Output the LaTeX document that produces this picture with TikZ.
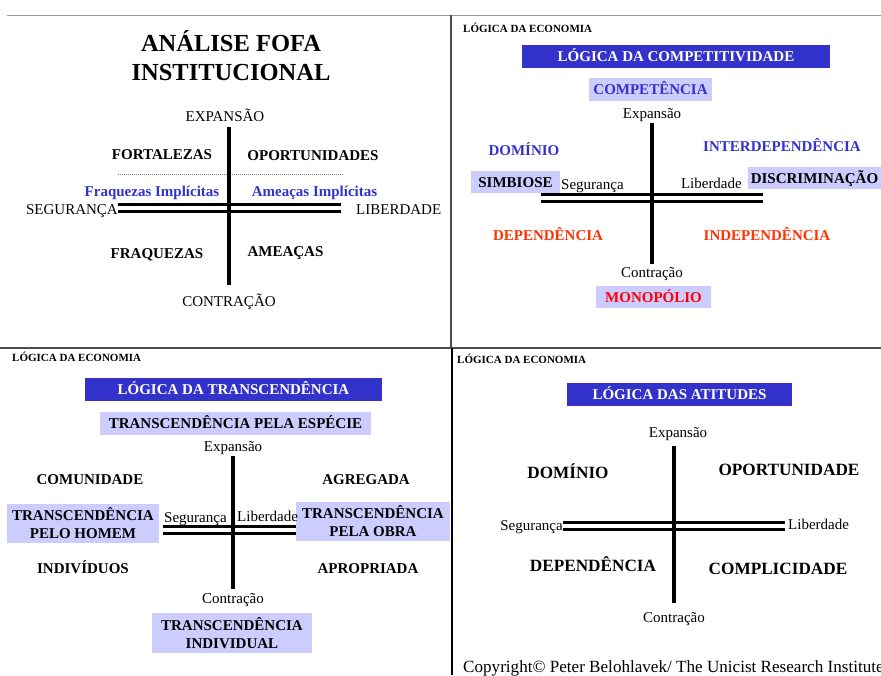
\documentclass[tikz,border=0pt]{standalone}
\usepackage{fontspec}
\setmainfont{Liberation Serif}
\definecolor{banner}{HTML}{3333CC}
\definecolor{lilac}{HTML}{CCCCFF}
\definecolor{ink}{HTML}{3333CC}
\definecolor{flame}{HTML}{FF3300}
\definecolor{alarm}{HTML}{FF0000}
\tikzset{
  txt/.style={inner sep=0pt, font=\fontsize{15}{17}\selectfont, text height=10.2pt, text depth=0pt},
  bld/.style={inner sep=0pt, font=\fontsize{15}{17}\selectfont\bfseries, text height=10.2pt, text depth=0pt},
  big/.style={inner sep=0pt, font=\fontsize{17.2}{20}\selectfont\bfseries, text height=11.7pt, text depth=0pt},
  small/.style={inner sep=0pt, font=\fontsize{11}{13}\selectfont\bfseries, text height=7.5pt, text depth=0pt, anchor=west},
  bannerbox/.style={bld, fill=banner, text=white},
  tagbox/.style={bld, fill=lilac},
  twobox/.style={inner sep=0pt, font=\fontsize{15}{18}\selectfont\bfseries, fill=lilac, align=center},
  axis/.style={line width=3.5pt},
  dbl/.style={draw=black, line width=3pt, double=white, double distance=4pt},
  frame/.style={line width=1.5pt, black!70}
}
\begin{document}
\begin{tikzpicture}[x=1pt, y=-1pt]
\useasboundingbox (0,0) rectangle (881,675);
\fill[white] (0,0) rectangle (881,675);

% panel frames
\draw[gray!80, line width=1pt] (7,15) -- (881,15);
\draw[frame] (451,15) -- (451,348);
\draw[black!70, line width=2pt] (0,348) -- (881,348);
\draw[black, line width=1.5pt] (452,348) -- (452,675);

% ---------- ANÁLISE FOFA ----------
\node[inner sep=0pt, font=\fontsize{24.5}{29}\selectfont\bfseries, align=center] (q1title) at (231,56) {ANÁLISE FOFA\\INSTITUCIONAL};
\node[txt] (q1exp) at (225,116) {EXPANSÃO};
\node[bld] (q1fort) at (162,154) {FORTALEZAS};
\node[bld] (q1opor) at (313,155) {OPORTUNIDADES};
\node[bld, text=ink] (q1fi) at (152,191) {Fraquezas Implícitas};
\node[bld, text=ink] (q1ai) at (314.5,191) {Ameaças Implícitas};
\node[txt, anchor=east] (q1seg) at (118,209) {SEGURANÇA};
\node[txt, anchor=west] (q1lib) at (356,209) {LIBERDADE};
\node[bld] (q1fraq) at (157,253) {FRAQUEZAS};
\node[bld] (q1amea) at (285.5,251) {AMEAÇAS};
\node[txt] (q1con) at (229,301) {CONTRAÇÃO};
\coordinate (q1dl) at (118,174);
\coordinate (q1dr) at (343,174);
\coordinate (q1l) at (118,207.5);
\coordinate (q1r) at (341,207.5);
\coordinate (q1t) at (229,127);
\coordinate (q1b) at (229,285);
\draw[gray, line width=0.8pt, dash pattern=on 1pt off 1pt] (q1dl) -- (q1dr);
\draw[dbl] (q1l) -- (q1r);
\draw[axis] (q1t) -- (q1b);

% ---------- LÓGICA DA COMPETITIVIDADE ----------
\node[small] (q2eco) at (463,29) {LÓGICA DA ECONOMIA};
\node[bannerbox, minimum width=308pt, minimum height=23pt] (q2ban) at (676,56.5) {LÓGICA DA COMPETITIVIDADE};
\node[tagbox, text=ink, minimum width=123pt, minimum height=23pt] (q2comp) at (650.5,89.5) {COMPETÊNCIA};
\node[txt] (q2exp) at (652,113) {Expansão};
\node[bld, text=ink] (q2dom) at (524,150) {DOMÍNIO};
\node[bld, text=ink] (q2inter) at (782,146) {INTERDEPENDÊNCIA};
\coordinate (q2l) at (541,197.5);
\coordinate (q2r) at (763,197.5);
\draw[dbl] (q2l) -- (q2r);
\node[tagbox, minimum width=89pt, minimum height=22pt] (q2simb) at (515.5,182) {SIMBIOSE};
\node[txt, anchor=west] (q2seg) at (561,184) {Segurança};
\node[txt, anchor=east] (q2lib) at (742,183) {Liberdade};
\node[tagbox, minimum width=133pt, minimum height=22pt] (q2disc) at (814.5,178) {DISCRIMINAÇÃO};
\node[bld, text=flame] (q2dep) at (548,235) {DEPENDÊNCIA};
\node[bld, text=flame] (q2indep) at (767,235) {INDEPENDÊNCIA};
\node[txt] (q2con) at (652,272) {Contração};
\node[tagbox, text=alarm, minimum width=115pt, minimum height=22pt] (q2mono) at (653.5,297) {MONOPÓLIO};
\coordinate (q2t) at (652,123);
\coordinate (q2b) at (652,264);
\draw[axis] (q2t) -- (q2b);

% ---------- LÓGICA DA TRANSCENDÊNCIA ----------
\node[small] (q3eco) at (12,358) {LÓGICA DA ECONOMIA};
\node[bannerbox, minimum width=297pt, minimum height=23pt] (q3ban) at (233.5,389.5) {LÓGICA DA TRANSCENDÊNCIA};
\node[tagbox, minimum width=271pt, minimum height=23pt] (q3esp) at (235.5,423.5) {TRANSCENDÊNCIA PELA ESPÉCIE};
\node[txt] (q3exp) at (233,446) {Expansão};
\node[bld] (q3comu) at (90,479) {COMUNIDADE};
\node[bld] (q3agre) at (366,479) {AGREGADA};
\coordinate (q3l) at (163,529.5);
\coordinate (q3r) at (296,529.5);
\draw[dbl] (q3l) -- (q3r);
\node[twobox, minimum width=152pt, minimum height=39pt] (q3homem) at (83,523.5) {TRANSCENDÊNCIA\\PELO HOMEM};
\node[twobox, minimum width=154pt, minimum height=39pt] (q3obra) at (373,521.5) {TRANSCENDÊNCIA\\PELA OBRA};
\node[txt, anchor=west] (q3seg) at (164,517) {Segurança};
\node[txt, anchor=west] (q3lib) at (237,516) {Liberdade};
\node[bld] (q3indiv) at (83,568) {INDIVÍDUOS};
\node[bld] (q3apro) at (368,568) {APROPRIADA};
\node[txt] (q3con) at (233,598) {Contração};
\node[twobox, minimum width=160pt, minimum height=40pt] (q3ind) at (232,633) {TRANSCENDÊNCIA\\INDIVIDUAL};
\coordinate (q3t) at (233,456);
\coordinate (q3b) at (233,589);
\draw[axis] (q3t) -- (q3b);

% ---------- LÓGICA DAS ATITUDES ----------
\node[small] (q4eco) at (457,360) {LÓGICA DA ECONOMIA};
\node[bannerbox, minimum width=225pt, minimum height=23pt] (q4ban) at (679.5,394.5) {LÓGICA DAS ATITUDES};
\node[txt] (q4exp) at (678,432) {Expansão};
\node[big] (q4dom) at (568,473) {DOMÍNIO};
\node[big] (q4opor) at (789,470) {OPORTUNIDADE};
\node[txt, anchor=east] (q4seg) at (563,525) {Segurança};
\node[txt, anchor=west] (q4lib) at (788,524) {Liberdade};
\node[big] (q4dep) at (593,566) {DEPENDÊNCIA};
\node[big] (q4comp) at (778,569) {COMPLICIDADE};
\node[txt] (q4con) at (674,617) {Contração};
\coordinate (q4l) at (563,525.5);
\coordinate (q4r) at (785,525.5);
\coordinate (q4t) at (674,446);
\coordinate (q4b) at (674,603);
\draw[dbl] (q4l) -- (q4r);
\draw[axis] (q4t) -- (q4b);

% footer line runs past the right edge of the page
\begin{scope}
\clip (0,0) rectangle (881,675);
\node[inner sep=0pt, anchor=west, font=\fontsize{17.1}{20}\selectfont, text height=11.6pt, text depth=0pt] (copy) at (463,667) {Copyright© Peter Belohlavek/ The Unicist Research Institute};
\end{scope}
\end{tikzpicture}
\end{document}
